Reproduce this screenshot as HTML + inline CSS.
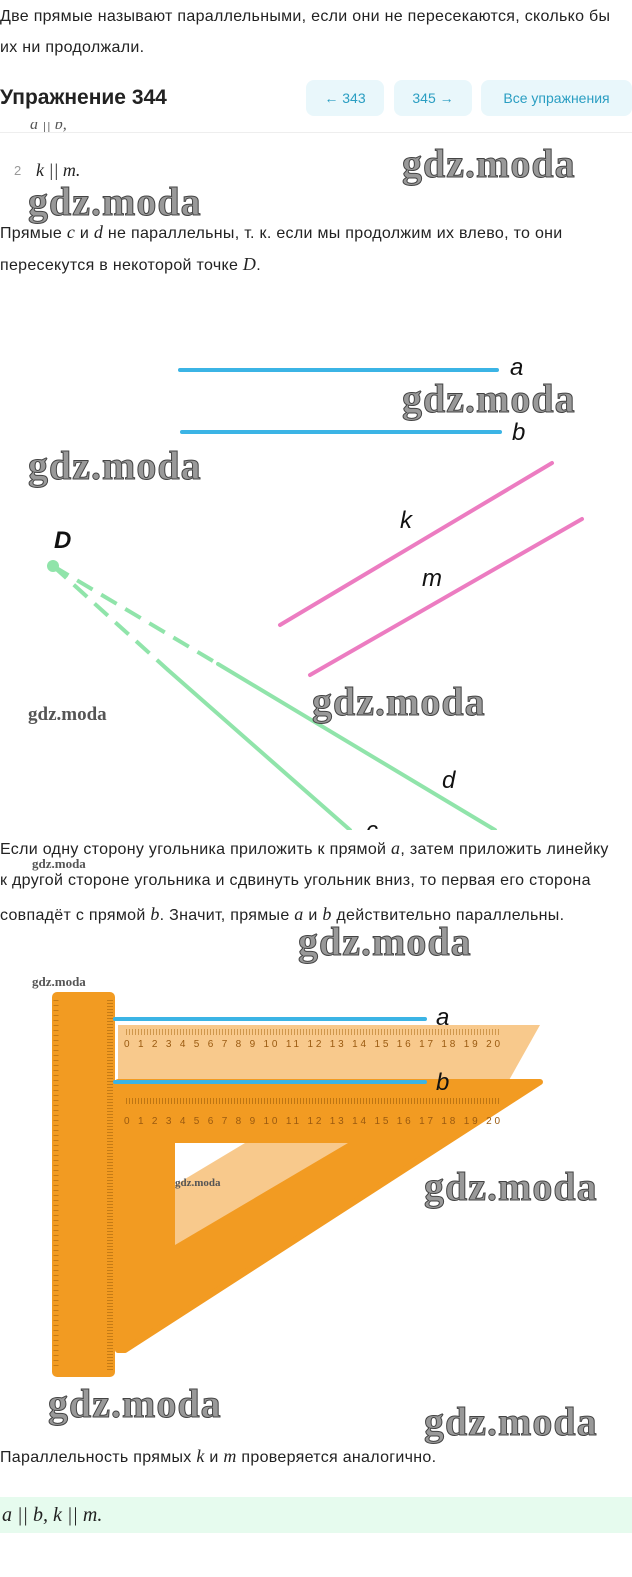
<!DOCTYPE html>
<html><head><meta charset="utf-8"><style>
body{margin:0;width:632px;height:1577px;position:relative;background:#fff;font-family:"Liberation Sans",sans-serif;color:#222;overflow:hidden}
.t{position:absolute;left:0;font-size:16px;letter-spacing:0.3px;white-space:nowrap}
.wm{position:absolute;font-family:"Liberation Serif",serif;font-weight:bold;color:#999;-webkit-text-stroke:1px #444;white-space:nowrap;letter-spacing:1px}
.m{font-family:"Liberation Serif",serif;font-style:italic;font-size:18px}
.btn{position:absolute;top:80px;height:36px;background:#e9f7fb;border-radius:8px;color:#2a9ec2;font-size:14px;line-height:36px;text-align:center}
</style></head><body>
<div class="t" style="top:8px">Две прямые называют параллельными, если они не пересекаются, сколько бы</div>
<div class="t" style="top:39px">их ни продолжали.</div>
<div style="position:absolute;left:0;top:86px;font-size:21px;font-weight:bold;color:#222">Упражнение 344</div>
<div class="btn" style="left:306px;width:78px">← 343</div>
<div class="btn" style="left:394px;width:78px">345 →</div>
<div class="btn" style="left:481px;width:151px">Все упражнения</div>
<div style="position:absolute;left:0;top:132px;width:632px;height:1px;background:#eee"></div>
<div class="m" style="position:absolute;left:30px;top:122px;color:#555;font-size:16px;height:10px;overflow:hidden;line-height:6px">a || b,</div>
<div class="t" style="top:163px;left:14px;color:#999;font-size:13px">2</div>
<div class="m" style="position:absolute;left:36px;top:160px">k || m.</div>
<div class="wm" style="left:402px;top:140px;font-size:40px">gdz.moda</div>
<div class="wm" style="left:28px;top:178px;font-size:40px">gdz.moda</div>
<div class="t" style="top:222px">Прямые <span class="m">c</span> и <span class="m">d</span> не параллельны, т. к. если мы продолжим их влево, то они</div>
<div class="t" style="top:254px">пересекутся в некоторой точке <span class="m">D</span>.</div>
<svg style="position:absolute;left:0;top:300px" width="632" height="530">
<g stroke-width="4" stroke-linecap="round">
<line x1="180" y1="70" x2="497" y2="70" stroke="#3bb4e5"/>
<line x1="182" y1="132" x2="500" y2="132" stroke="#3bb4e5"/>
<line x1="280" y1="325" x2="552" y2="163" stroke="#ec7cc1"/>
<line x1="310" y1="375" x2="582" y2="219" stroke="#ec7cc1"/>
<line x1="53" y1="266" x2="218" y2="364" stroke="#90e4aa" stroke-dasharray="18 10" stroke-linecap="butt"/>
<line x1="218" y1="364" x2="495" y2="530" stroke="#90e4aa"/>
<line x1="53" y1="266" x2="168" y2="370" stroke="#90e4aa" stroke-dasharray="18 10" stroke-linecap="butt"/>
<line x1="168" y1="370" x2="350" y2="530" stroke="#90e4aa"/>
</g>
<circle cx="53" cy="266" r="6" fill="#90e4aa"/>
<g font-family="Liberation Sans" font-style="italic" font-size="24" fill="#111">
<text x="510" y="75">a</text><text x="512" y="140">b</text>
<text x="400" y="228">k</text><text x="422" y="286">m</text>
<text x="442" y="488">d</text><text x="366" y="538">c</text>
<text x="54" y="248" font-weight="bold">D</text></g>
</svg>
<div class="wm" style="left:402px;top:375px;font-size:40px">gdz.moda</div>
<div class="wm" style="left:28px;top:442px;font-size:40px">gdz.moda</div>
<div class="wm" style="left:312px;top:678px;font-size:40px">gdz.moda</div>
<div class="wm" style="left:28px;top:704px;font-size:19px;-webkit-text-stroke:0;color:#555;letter-spacing:0">gdz.moda</div>
<div class="t" style="top:838px;background:#fff;width:632px">Если одну сторону угольника приложить к прямой <span class="m">a</span>, затем приложить линейку</div>
<div class="wm" style="left:32px;top:856px;font-size:13px;-webkit-text-stroke:0;color:#555;letter-spacing:0">gdz.moda</div>
<div class="t" style="top:872px">к другой стороне угольника и сдвинуть угольник вниз, то первая его сторона</div>
<div class="t" style="top:904px">совпадёт с прямой <span class="m">b</span>. Значит, прямые <span class="m">a</span> и <span class="m">b</span> действительно параллельны.</div>
<div class="wm" style="left:298px;top:918px;font-size:40px">gdz.moda</div>
<div class="wm" style="left:32px;top:974px;font-size:13px;-webkit-text-stroke:0;color:#555;letter-spacing:0">gdz.moda</div>
<svg style="position:absolute;left:0;top:980px" width="632" height="420">
<polygon points="118,45 540,45 508,102 118,102" fill="#f8c98c"/>
<polygon points="118,102 540,102 125,370 118,370" fill="#f29b22" stroke="#f29b22" stroke-width="6" stroke-linejoin="round"/>
<polygon points="175,163 348,163 175,265" fill="#f8c98c"/>
<polygon points="175,163 245,163 175,205" fill="#fff"/>
<rect x="52" y="12" width="63" height="385" rx="5" fill="#f29b22"/>
<g stroke="#a8660e" stroke-width="1">
<line x1="126" y1="52" x2="500" y2="52" stroke-dasharray="1 2" stroke-width="6" opacity=".5"/>
<line x1="126" y1="121" x2="500" y2="121" stroke-dasharray="1 2" stroke-width="6" opacity=".7"/>
<line x1="110" y1="20" x2="110" y2="390" stroke-dasharray="1 2" stroke-width="6" opacity=".6"/>
<line x1="56" y1="20" x2="56" y2="390" stroke-dasharray="1 4" stroke-width="5" opacity=".6"/>
</g>
<g font-size="10" fill="#9a5a10" font-family="Liberation Sans">
<text x="124" y="67" textLength="376">0 1 2 3 4 5 6 7 8 9 10 11 12 13 14 15 16 17 18 19 20</text>
<text x="124" y="144" textLength="376">0 1 2 3 4 5 6 7 8 9 10 11 12 13 14 15 16 17 18 19 20</text>
</g>
<line x1="115" y1="39" x2="425" y2="39" stroke="#3bb4e5" stroke-width="4" stroke-linecap="round"/>
<line x1="115" y1="102" x2="425" y2="102" stroke="#3bb4e5" stroke-width="4" stroke-linecap="round"/>
<g font-family="Liberation Sans" font-style="italic" font-size="24" fill="#111">
<text x="436" y="45">a</text><text x="436" y="110">b</text></g>
</svg>
<div class="wm" style="left:175px;top:1177px;font-size:11px;-webkit-text-stroke:0;color:#555;letter-spacing:0">gdz.moda</div>
<div class="wm" style="left:424px;top:1163px;font-size:40px">gdz.moda</div>
<div class="wm" style="left:48px;top:1380px;font-size:40px">gdz.moda</div>
<div class="wm" style="left:424px;top:1398px;font-size:40px">gdz.moda</div>
<div class="t" style="top:1446px">Параллельность прямых <span class="m">k</span> и <span class="m">m</span> проверяется аналогично.</div>
<div style="position:absolute;left:0;top:1497px;width:632px;height:36px;background:#e6fbee"></div>
<div class="m" style="position:absolute;left:2px;top:1504px;font-size:20px">a || b, k || m.</div>
</body></html>
